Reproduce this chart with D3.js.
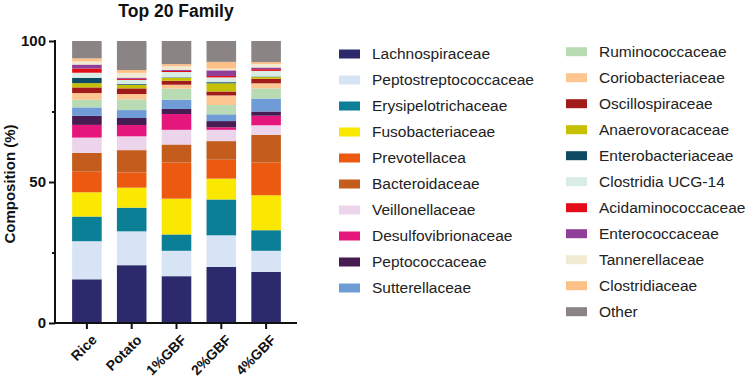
<!DOCTYPE html>
<html>
<head>
<meta charset="UTF-8">
<script src="https://d3js.org/d3.v7.min.js"></script>
<style>
  body { margin: 0; background: #fff; }
  svg text { font-family: "Liberation Sans", Arial, sans-serif; }
  .axis .domain { display: none; }
</style>
</head>
<body>
<svg id="chart" width="752" height="382"></svg>
<script>
// groups on the x axis
const groups = ['Rice', 'Potato', '1%GBF', '2%GBF', '4%GBF'];

// families, bottom of stack first
const families = ['Lachnospiraceae', 'Peptostreptococcaceae', 'Erysipelotrichaceae', 'Fusobacteriaceae',
  'Prevotellacea', 'Bacteroidaceae', 'Veillonellaceae', 'Desulfovibrionaceae', 'Peptococcaceae',
  'Sutterellaceae', 'Ruminococcaceae', 'Coriobacteriaceae', 'Oscillospiraceae', 'Anaerovoracaceae',
  'Enterobacteriaceae', 'Clostridia UCG-14', 'Acidaminococcaceae', 'Enterococcaceae',
  'Tannerellaceae', 'Clostridiaceae', 'Other'];

const colors = ['#2c2a6d', '#d7e4f5', '#0b7f95', '#fbe800', '#ec5a12', '#c35c1d', '#ecd5ea', '#e5177c',
  '#461c52', '#6f9bd7', '#b9dbb4', '#fdc590', '#a01b1a', '#c6c004', '#0e4a61', '#d9ede5',
  '#e20d19', '#8f3f97', '#f1ebd3', '#fdc187', '#8a8584'];

// composition (%) per group, same order as families
const rice   = [15.5, 13.5, 8.75, 8.6, 7.3, 6.7, 5.4, 4.5, 3.2, 3.0, 2.7, 2.4, 2.0, 1.5, 1.9, 1.8, 1.5, 1.4, 1.1, 1.1, 6.15];
const potato = [20.5, 12.0, 8.4, 7.1, 5.4, 7.9, 4.9, 4.0, 2.5, 2.8, 3.8, 1.9, 2.0, 1.2, 0.3, 1.5, 0.4, 0.4, 1.7, 1.0, 10.3];
const gbf1   = [16.6, 9.0, 5.8, 12.7, 12.8, 6.4, 5.2, 5.6, 1.8, 3.3, 3.9, 1.4, 1.4, 1.0, 0.2, 1.9, 0.4, 0.4, 1.2, 0.8, 8.2];
const gbf2   = [19.9, 11.2, 12.7, 7.4, 6.7, 6.6, 4.0, 0.9, 2.2, 2.4, 3.3, 3.4, 1.4, 2.9, 0.4, 1.7, 0.5, 2.0, 0.6, 2.4, 7.4];
const gbf4   = [18.1, 7.5, 7.3, 12.4, 11.6, 9.8, 3.4, 3.4, 1.5, 4.6, 3.6, 1.8, 1.6, 0.6, 0.2, 2.0, 0.6, 0.6, 1.2, 0.7, 7.5];

const yTicks = [0, 50, 100];
const yMinorTicks = [25, 75];

const series = [rice, potato, gbf1, gbf2, gbf4];
const table = groups.map((g, i) => {
  const row = {group: g};
  families.forEach((f, j) => { row[f] = series[i][j]; });
  return row;
});

const svg = d3.select('#chart');

const x = d3.scaleBand().domain(groups).range([64.5, 288.5]).paddingInner(0.34).paddingOuter(0.17);
const y = d3.scaleLinear().domain([0, 100]).range([323, 41]);
const color = d3.scaleOrdinal().domain(families).range(colors);

const stacked = d3.stack().keys(families)(table);

// bars
svg.append('g').selectAll('g.layer').data(stacked)
  .join('g')
  .attr('class', 'layer')
  .attr('fill', d => color(d.key))
  .selectAll('rect')
  .data(d => d)
  .join('rect')
  .attr('x', d => x(d.data.group))
  .attr('width', x.bandwidth())
  .attr('y', d => y(d[1]))
  .attr('height', d => y(d[0]) - y(d[1]));

// y axis
const yAxis = svg.append('g').attr('class', 'axis')
  .attr('transform', 'translate(55,0)')
  .call(d3.axisLeft(y).tickValues(yTicks).tickSize(6).tickPadding(3));
yAxis.selectAll('text').attr('font-size', 15).attr('font-weight', 'bold').attr('fill', '#111');
yAxis.selectAll('line').attr('stroke', '#111').attr('stroke-width', 2);
svg.append('g').attr('class', 'axis')
  .attr('transform', 'translate(55,0)')
  .call(d3.axisLeft(y).tickValues(yMinorTicks).tickSize(3).tickFormat(''))
  .selectAll('line').attr('stroke', '#111').attr('stroke-width', 2);
svg.append('line')
  .attr('x1', 55).attr('x2', 55).attr('y1', y(100) - 1).attr('y2', y(0) + 1)
  .attr('stroke', '#111').attr('stroke-width', 2);

// x axis
const xAxis = svg.append('g').attr('class', 'axis')
  .attr('transform', `translate(0,${y(0)})`)
  .call(d3.axisBottom(x).tickSize(6).tickSizeOuter(0));
xAxis.selectAll('line').attr('stroke', '#111').attr('stroke-width', 2);
xAxis.selectAll('text')
  .attr('font-size', 14).attr('font-weight', 'bold').attr('fill', '#111')
  .attr('text-anchor', 'end')
  .attr('dy', '0.35em')
  .attr('transform', 'translate(1,8) rotate(-45)');
svg.append('line')
  .attr('x1', 54).attr('x2', 297).attr('y1', y(0)).attr('y2', y(0))
  .attr('stroke', '#111').attr('stroke-width', 2);

// title and y label
svg.append('text')
  .attr('x', 176).attr('y', 17)
  .attr('text-anchor', 'middle')
  .attr('font-size', 17.5).attr('font-weight', 'bold').attr('fill', '#111')
  .text('Top 20 Family');

svg.append('text')
  .attr('transform', 'translate(15,184) rotate(-90)')
  .attr('text-anchor', 'middle')
  .attr('font-size', 15).attr('font-weight', 'bold').attr('fill', '#111')
  .text('Composition (%)');

// legend, two columns
const legend = svg.append('g').selectAll('g.item').data(families)
  .join('g')
  .attr('class', 'item')
  .attr('transform', (d, i) => i < 10
    ? `translate(339,${54 + i * 26})`
    : `translate(566,${51.7 + (i - 10) * 26})`);

legend.append('rect')
  .attr('x', 0).attr('y', -4.5)
  .attr('width', 21).attr('height', 9)
  .attr('fill', d => color(d));

legend.append('text')
  .attr('x', 33).attr('y', 0).attr('dy', '0.35em')
  .attr('font-size', 15.5).attr('fill', '#222')
  .text(d => d);
</script>
</body>
</html>
